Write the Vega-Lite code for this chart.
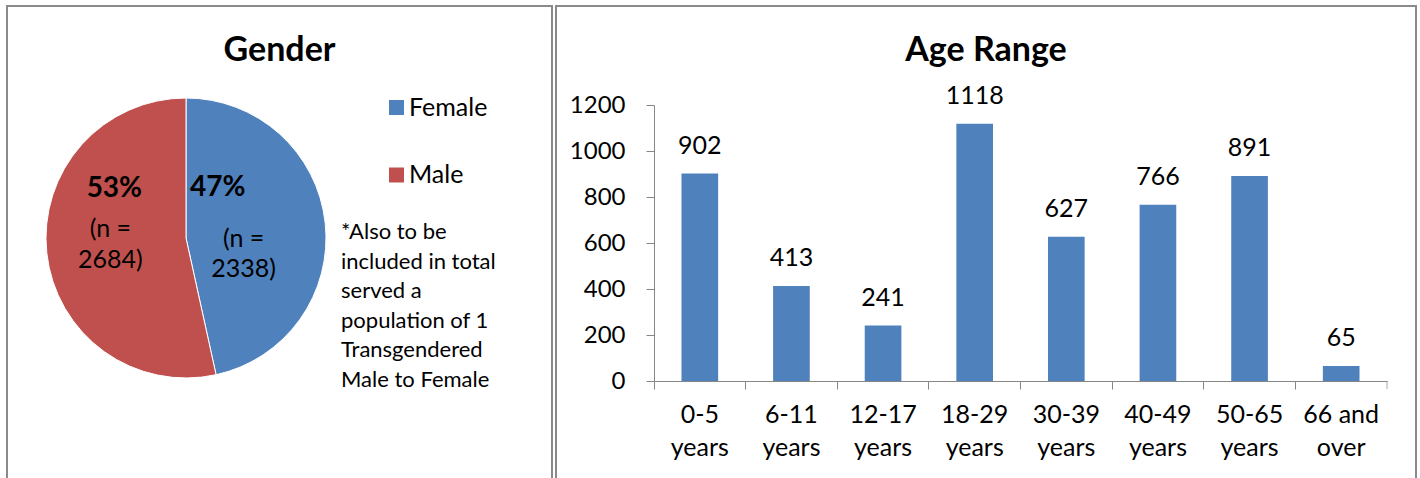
{
  "$schema": "https://vega.github.io/schema/vega-lite/v6.json",
  "background": "white",
  "padding": {"left": 6, "top": 5, "right": 0, "bottom": 0},
  "spacing": 2,
  "config": {
    "font": "Lato",
    "view": {"stroke": "#8a8a8a", "strokeWidth": 2},
    "title": {"fontSize": 34, "fontWeight": "bold", "color": "black", "font": "Lato", "anchor": "middle", "offset": -62},
    "text": {"font": "Lato", "fontSize": 25, "color": "black"},
    "axis": {
      "grid": false,
      "domainColor": "#868686",
      "tickColor": "#868686",
      "tickSize": 8,
      "labelFont": "Lato",
      "labelFontSize": 24,
      "labelColor": "black",
      "title": null
    }
  },
  "hconcat": [
    {
      "width": 545,
      "height": 480,
      "view": {"stroke": "#8a8a8a", "strokeWidth": 2},
      "title": "Gender",
      "data": {"values": [
        {"gender": "Female", "count": 2338},
        {"gender": "Male", "count": 2684}
      ]},
      "transform": [
        {"joinaggregate": [{"op": "sum", "field": "count", "as": "total"}]},
        {"window": [{"op": "sum", "field": "count", "as": "cum"}], "sort": [{"field": "gender"}], "frame": [null, 0]},
        {"calculate": "(datum.cum - datum.count) / datum.total", "as": "start"},
        {"calculate": "datum.cum / datum.total", "as": "end"},
        {"calculate": "(datum.cum - datum.count / 2) / datum.total", "as": "mid"},
        {"calculate": "format(datum.count / datum.total, '.0%')", "as": "pct"},
        {"calculate": "['(n =', datum.count + ')']", "as": "nlabel"}
      ],
      "layer": [
        {
          "mark": {"type": "arc", "outerRadius": 140, "x": 179, "y": 232, "stroke": "white", "strokeWidth": 1},
          "encoding": {
            "theta": {"field": "start", "type": "quantitative", "scale": {"domain": [0, 1]}},
            "theta2": {"field": "end"},
            "color": {
              "field": "gender",
              "type": "nominal",
              "scale": {"domain": ["Female", "Male"], "range": ["#4F81BD", "#C0504D"]},
              "legend": {
                "orient": "none",
                "legendX": 334,
                "legendY": 89,
                "title": ["*Also to be", "included in total", "served a", "population of 1", "Transgendered", "Male to Female"],
                "titleOrient": "bottom",
                "titleAnchor": "start",
                "titleFont": "Lato",
                "titleFontSize": 22,
                "titleFontWeight": "normal",
                "titleLineHeight": 29.6,
                "titleColor": "black",
                "titlePadding": 34,
                "titleLimit": 400,
                "symbolType": "square",
                "symbolSize": 225,
                "symbolStrokeWidth": 0,
                "symbolOffset": 43,
                "labelFont": "Lato",
                "labelFontSize": 25,
                "labelColor": "black",
                "labelOffset": 0,
                "rowPadding": 41.5
              }
            }
          }
        },
        {
          "transform": [{"filter": "datum.gender == 'Female'"}],
          "mark": {"type": "text", "x": 179, "y": 232, "fontWeight": "bold", "fontSize": 28, "dx": -28, "dy": -44},
          "encoding": {"theta": {"field": "mid", "type": "quantitative"}, "radius": {"value": 60}, "text": {"field": "pct"}}
        },
        {
          "transform": [{"filter": "datum.gender == 'Female'"}],
          "mark": {"type": "text", "x": 179, "y": 232, "lineHeight": 30.5, "baseline": "middle", "dx": -2, "dy": 7},
          "encoding": {"theta": {"field": "mid", "type": "quantitative"}, "radius": {"value": 60}, "text": {"field": "nlabel"}}
        },
        {
          "transform": [{"filter": "datum.gender == 'Male'"}],
          "mark": {"type": "text", "x": 179, "y": 232, "fontWeight": "bold", "fontSize": 28, "dx": -12, "dy": -55},
          "encoding": {"theta": {"field": "mid", "type": "quantitative"}, "radius": {"value": 60}, "text": {"field": "pct"}}
        },
        {
          "transform": [{"filter": "datum.gender == 'Male'"}],
          "mark": {"type": "text", "x": 179, "y": 232, "lineHeight": 30.5, "baseline": "middle", "dx": -16, "dy": -15},
          "encoding": {"theta": {"field": "mid", "type": "quantitative"}, "radius": {"value": 60}, "text": {"field": "nlabel"}}
        }
      ]
    },
    {
      "width": 860,
      "height": 480,
      "title": "Age Range",
      "data": {"values": [
        {"age": "0-5 years", "count": 902},
        {"age": "6-11 years", "count": 413},
        {"age": "12-17 years", "count": 241},
        {"age": "18-29 years", "count": 1118},
        {"age": "30-39 years", "count": 627},
        {"age": "40-49 years", "count": 766},
        {"age": "50-65 years", "count": 891},
        {"age": "66 and over", "count": 65}
      ]},
      "encoding": {
        "x": {
          "field": "age",
          "type": "nominal",
          "sort": null,
          "scale": {
            "domain": ["0-5 years", "6-11 years", "12-17 years", "18-29 years", "30-39 years", "40-49 years", "50-65 years", "66 and over"],
            "range": [98, 831],
            "paddingInner": 0,
            "paddingOuter": 0
          },
          "axis": {
            "offset": -105,
            "bandPosition": 0,
            "labelAngle": 0,
            "labelFontSize": 25,
            "labelPadding": 13,
            "labelLineHeight": 33,
            "labelExpr": "[slice(datum.label, 0, lastindexof(datum.label, ' ')), slice(datum.label, lastindexof(datum.label, ' ') + 1)]"
          }
        },
        "y": {
          "field": "count",
          "type": "quantitative",
          "scale": {"domain": [0, 1200], "range": [375, 99], "nice": false},
          "axis": {"offset": -98, "values": [0, 200, 400, 600, 800, 1000, 1200], "format": "d", "labelPadding": 21}
        }
      },
      "layer": [
        {"mark": {"type": "bar", "color": "#4F81BD", "width": {"band": 0.4}}},
        {"mark": {"type": "text", "baseline": "alphabetic", "dy": -20}, "encoding": {"text": {"field": "count"}}},
        {
          "transform": [{"filter": "datum.age == '66 and over'"}],
          "mark": {"type": "tick", "orient": "vertical", "size": 8, "thickness": 1, "color": "#868686", "yOffset": 4},
          "encoding": {"x": {"field": "age", "type": "nominal", "bandPosition": 1}, "y": {"datum": 0}}
        }
      ]
    }
  ]
}
